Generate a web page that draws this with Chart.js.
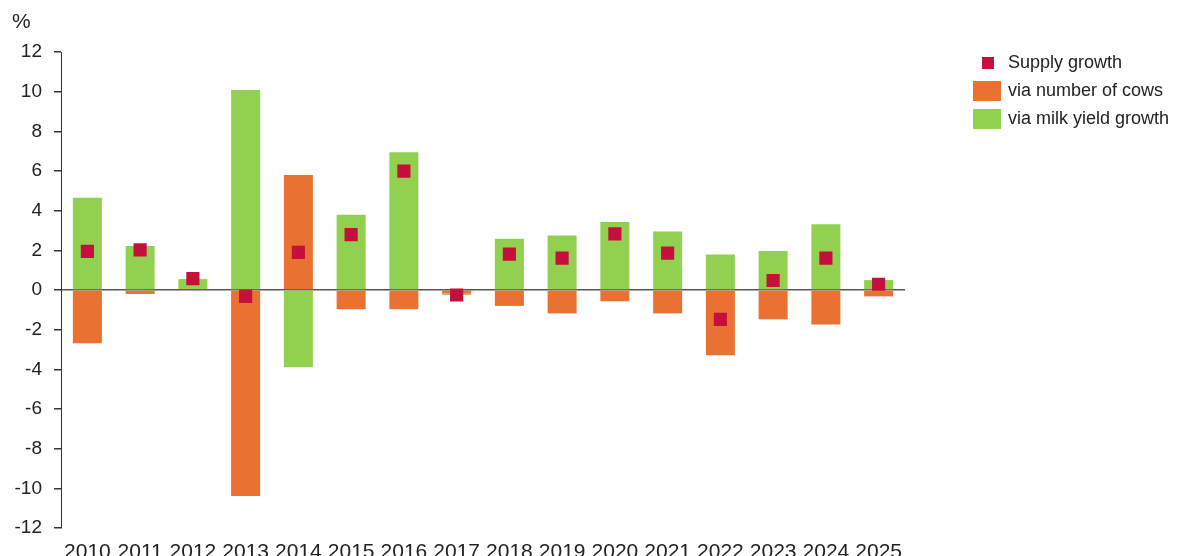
<!DOCTYPE html>
<html>
<head>
<meta charset="utf-8">
<script src="https://cdn.jsdelivr.net/npm/chart.js@4.4.1/dist/chart.umd.min.js"></script>
<style>
  html, body { margin: 0; padding: 0; background: #fff; }
  body { width: 1177px; height: 556px; position: relative; overflow: hidden; font-family: "Liberation Sans", Arial, sans-serif; color: #222; }
  #wrap { position: absolute; left: 0; top: 0; width: 1177px; height: 556px; }
  #unit { position: absolute; left: 12px; top: 9px; font-size: 21px; }
  .legend { position: absolute; left: 972px; top: 50px; font-size: 18px; }
  .legend .item { position: relative; height: 28px; }
  .legend .sw { position: absolute; }
  .legend .txt { position: absolute; left: 36px; top: 2px; white-space: nowrap; }
</style>
</head>
<body>
<div id="wrap"><canvas id="supplyChart" width="1177" height="556"></canvas></div>
<div id="unit">%</div>
<div class="legend">
  <div class="item"><span class="sw" style="left:10px;top:7px;width:12px;height:12px;background:#C50F3C"></span><span class="txt">Supply growth</span></div>
  <div class="item"><span class="sw" style="left:1px;top:3px;width:28px;height:20px;background:#E97132"></span><span class="txt">via number of cows</span></div>
  <div class="item"><span class="sw" style="left:1px;top:3px;width:28px;height:20px;background:#92D050"></span><span class="txt">via milk yield growth</span></div>
</div>
<script>
const years = ['2010', '2011', '2012', '2013', '2014', '2015', '2016', '2017', '2018', '2019', '2020', '2021', '2022', '2023', '2024', '2025'];
const viaCows = [-2.68, -0.2, 0.05, -10.39, 5.8, -0.97, -0.97, -0.18, -0.8, -1.18, -0.57, -1.18, -3.29, -1.48, -1.74, -0.32];
const viaYield = [4.65, 2.22, 0.5, 10.09, -3.9, 3.79, 6.94, -0.07, 2.58, 2.75, 3.43, 2.95, 1.79, 1.97, 3.31, 0.5];
const supplyGrowth = [1.95, 2.02, 0.57, -0.32, 1.9, 2.79, 5.99, -0.25, 1.81, 1.61, 2.83, 1.86, -1.48, 0.48, 1.61, 0.29];
const yTicks = [-12, -10, -8, -6, -4, -2, 0, 2, 4, 6, 8, 10, 12];

const ctx = document.getElementById('supplyChart').getContext('2d');
new Chart(ctx, {
    type: 'bar',
    data: {
        labels: years,
        datasets: [
            {
                type: 'line',
                label: 'Supply growth',
                data: supplyGrowth,
                stack: 'supply',
                showLine: false,
                pointStyle: 'rect',
                pointRadius: 9.3,
                pointBackgroundColor: '#C50F3C',
                pointBorderWidth: 0,
                order: 0
            },
            {
                label: 'via number of cows',
                data: viaCows,
                backgroundColor: '#E97132',
                stack: 'parts',
                order: 1
            },
            {
                label: 'via milk yield growth',
                data: viaYield,
                backgroundColor: '#92D050',
                stack: 'parts',
                order: 1
            }
        ]
    },
    options: {
        responsive: false,
        animation: false,
        devicePixelRatio: 1,
        layout: { padding: { top: 52, right: 272, left: 0, bottom: 0 } },
        datasets: { bar: { categoryPercentage: 1, barPercentage: 0.55 } },
        plugins: { legend: { display: false }, tooltip: { enabled: false } },
        scales: {
            x: {
                stacked: true,
                grid: { display: false },
                border: { display: false },
                ticks: { color: '#222', font: { size: 21, family: '"Liberation Sans", Arial, sans-serif' }, padding: 4, maxRotation: 0, autoSkip: false },
                afterFit: (scale) => { scale.height = 28; }
            },
            y: {
                stacked: true,
                min: -12,
                max: 12,
                afterBuildTicks: (scale) => { scale.ticks = yTicks.map(v => ({ value: v })); },
                grid: {
                    color: (c) => (c.tick && c.tick.value === 0 ? '#555' : 'rgba(0,0,0,0)'),
                    lineWidth: 1.5,
                    tickColor: '#333',
                    tickLength: 7
                },
                border: { display: true, color: '#333', width: 1 },
                ticks: { color: '#222', font: { size: 19, family: '"Liberation Sans", Arial, sans-serif' }, padding: 12, autoSkip: false },
                afterFit: (scale) => { scale.width = 61; }
            }
        }
    }
});
</script>
</body>
</html>
